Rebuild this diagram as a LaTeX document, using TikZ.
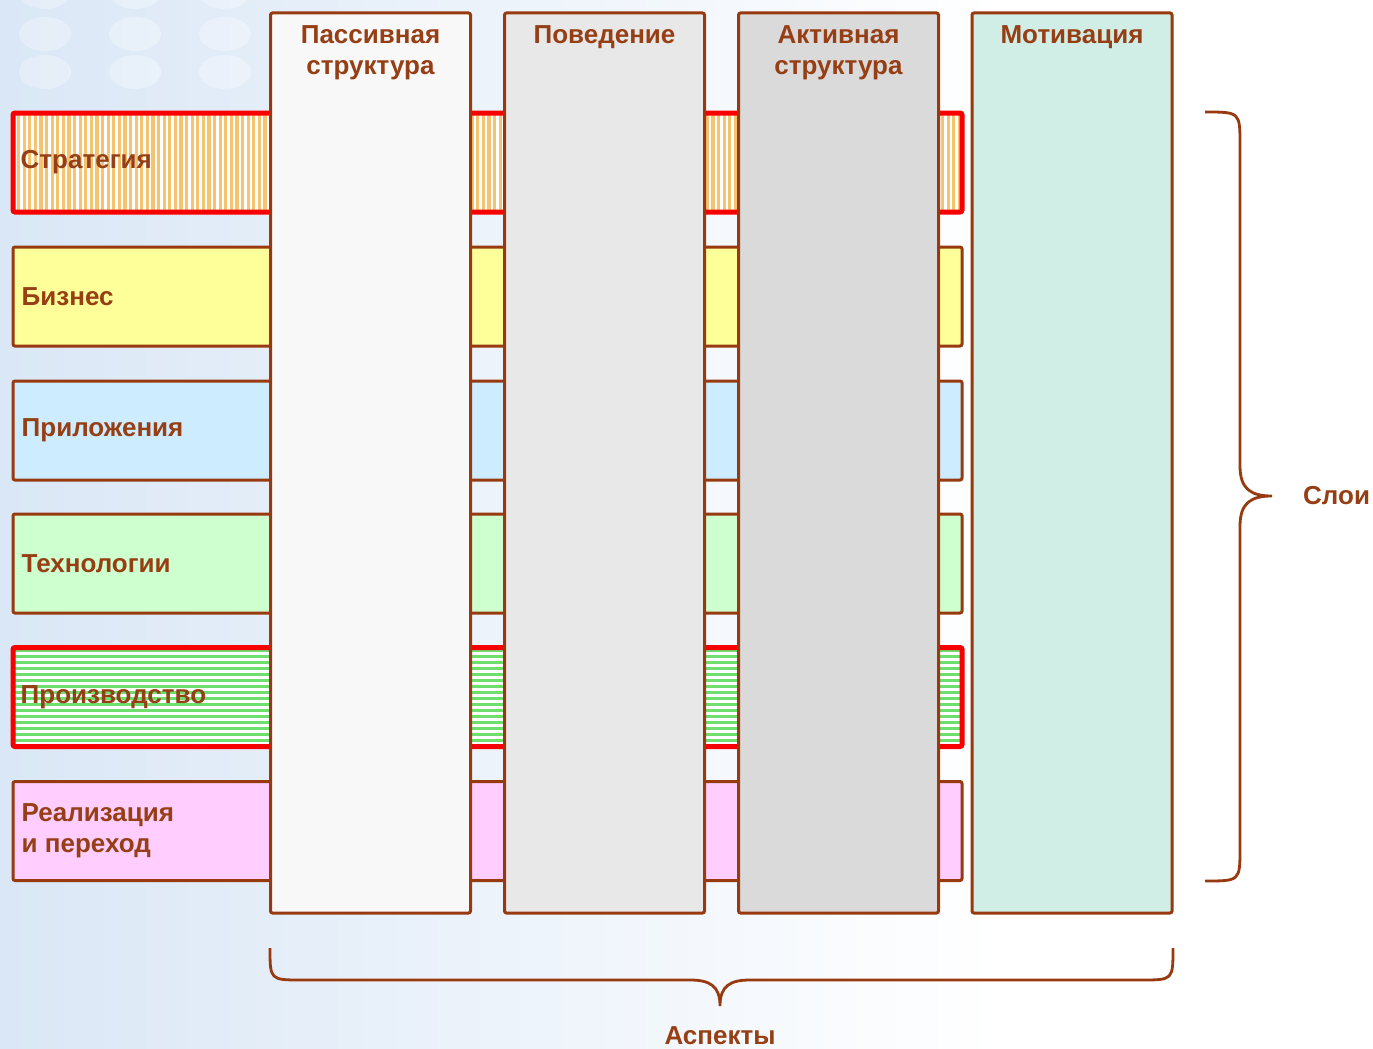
\documentclass[tikz,border=0pt]{standalone}
\usepackage{fontspec}
\setmainfont{Liberation Sans}
\usepackage{tikz}
\usetikzlibrary{calc}
\definecolor{rim}{RGB}{152,58,16}
\definecolor{ink}{RGB}{150,62,20}
\definecolor{alert}{RGB}{248,0,0}
\definecolor{stratfill}{RGB}{246,196,112}
\definecolor{bizfill}{RGB}{255,255,153}
\definecolor{appfill}{RGB}{206,236,255}
\definecolor{techfill}{RGB}{206,255,206}
\definecolor{prodfill}{RGB}{110,222,110}
\definecolor{implfill}{RGB}{255,206,255}
\definecolor{passfill}{RGB}{248,248,248}
\definecolor{behfill}{RGB}{232,232,232}
\definecolor{actfill}{RGB}{218,218,218}
\definecolor{motfill}{RGB}{208,238,230}
\definecolor{bgblue}{RGB}{218,231,246}
\tikzstyle{layer}=[draw=rim,line width=3pt,rounded corners=2pt,minimum width=949pt,minimum height=99pt,inner sep=0pt]
\tikzstyle{red layer}=[layer,draw=alert,line width=5pt]
\tikzstyle{aspect}=[draw=rim,line width=3pt,rounded corners=2pt,minimum width=200pt,minimum height=900pt,inner sep=0pt]
\tikzstyle{caption}=[text=ink,font=\fontsize{26}{31}\selectfont\bfseries,inner sep=0pt]
\tikzstyle{brace}=[draw=rim,line width=2.8pt]
\tikzstyle{vstripes}=[path picture={\foreach \s in {0,5.6,...,960}
    \draw[stratfill,line width=3.3pt] ([xshift=\s pt]path picture bounding box.south west) -- ([xshift=\s pt]path picture bounding box.north west);}]
\tikzstyle{hstripes}=[path picture={\foreach \s in {0,6,...,110}
    \draw[prodfill,line width=3.5pt] ([yshift=\s pt]path picture bounding box.south west) -- ([yshift=\s pt]path picture bounding box.south east);}]

\begin{document}
\begin{tikzpicture}[x=1pt,y=-1pt]
    \useasboundingbox (0,0) rectangle (1373,1049);
    \fill[white] (0,0) rectangle (1373,1049);
    \shade[left color=bgblue,right color=white,middle color=bgblue!50] (0,0) rectangle (1000,1049);
    \foreach \x in {45,135,225}
        \foreach \y in {-8,34,72}
            \fill[white,opacity=0.3] (\x,\y) ellipse (26pt and 17pt);
    \foreach \pos/\name/\tint in {{(487.5,296.5)/biz/bizfill}, {(487.5,430.5)/app/appfill}, {(487.5,563.5)/tech/techfill}, {(487.5,831)/impl/implfill}}
        \node[layer,fill=\tint] (\name) at \pos {};
    \node[red layer,fill=white,vstripes] (strat) at (487.5,162.5) {};
    \node[red layer,fill=white,hstripes] (prod) at (487.5,697) {};
    \foreach \name/\word in {strat/Стратегия, biz/Бизнес, app/Приложения, tech/Технологии, prod/Производство}
        \node[caption,anchor=west] (\name-lbl) at ([xshift=10pt]\name.west) {\word};
    \node[caption,anchor=west,align=left] (impl-lbl) at ([xshift=10pt]impl.west) {Реализация\\и переход};
    \foreach \pos/\name/\tint/\head in {{(370.5,463)/passive/passfill/Пассивная\\структура}, {(604.5,463)/behaviour/behfill/Поведение}, {(838.5,463)/active/actfill/Активная\\структура}, {(1072,463)/motive/motfill/Мотивация}}
    {
        \node[aspect,fill=\tint] (\name) at \pos {};
        \node[caption,anchor=north,align=center] (\name-head) at ([yshift=-14pt]\name.north) {\head};
    }
    \coordinate (layers-top) at (1205,112);
    \coordinate (layers-tip) at (1272,496);
    \coordinate (layers-bot) at (1205,881);
    \draw[brace] (layers-top) .. controls (1240,112) .. (1240,145) -- (1240,466)
        .. controls (1240,490) and (1252,496) .. (layers-tip)
        .. controls (1252,496) and (1240,502) .. (1240,526) -- (1240,848)
        .. controls (1240,881) .. (layers-bot);
    \node[caption,anchor=west] (layers-lbl) at (1303,496) {Слои};
    \coordinate (aspects-left) at (270,948);
    \coordinate (aspects-tip) at (720,1006);
    \coordinate (aspects-right) at (1173,948);
    \draw[brace] (aspects-left) .. controls (270,980) .. (302,980) -- (690,980)
        .. controls (710,980) and (720,986) .. (aspects-tip)
        .. controls (720,986) and (730,980) .. (750,980) -- (1141,980)
        .. controls (1173,980) .. (aspects-right);
    \node[caption] (aspects-lbl) at (720,1036) {Аспекты};
\end{tikzpicture}
\end{document}
